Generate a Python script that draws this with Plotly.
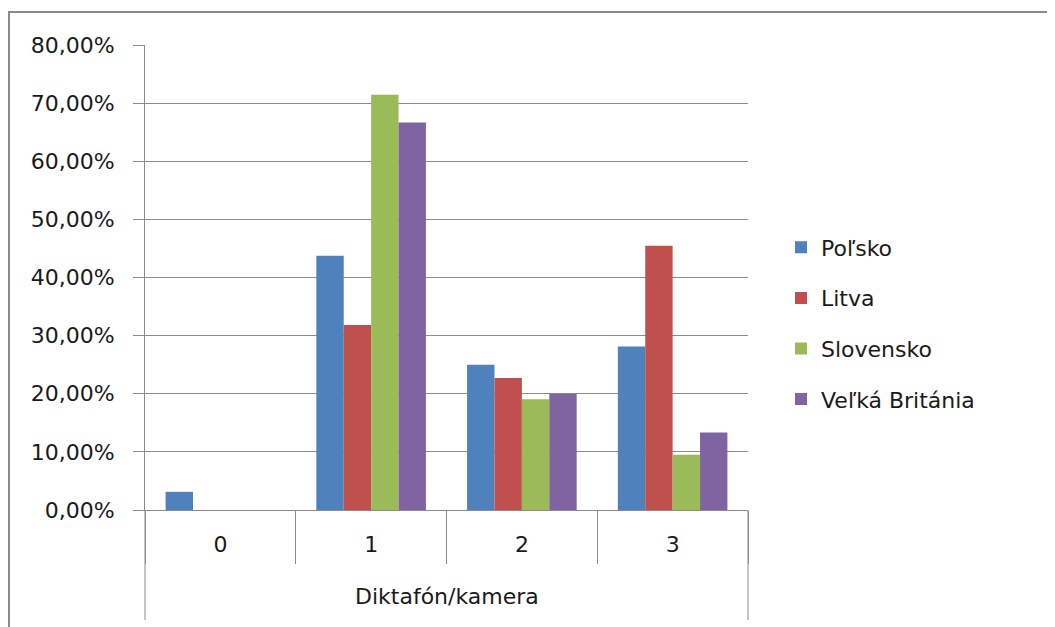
import plotly.graph_objects as go

categories = ["0", "1", "2", "3"]
axis_group_label = "Diktafón/kamera"
series_names = ["Poľsko", "Litva", "Slovensko", "Veľká Británia"]
polsko = [3.13, 43.75, 25.00, 28.13]
litva = [0.0, 31.82, 22.73, 45.45]
slovensko = [0.0, 71.43, 19.05, 9.52]
velka_britania = [0.0, 66.67, 20.00, 13.33]
series_values = [polsko, litva, slovensko, velka_britania]
colors = ["#4F81BD", "#C0504D", "#9BBB59", "#8064A2"]
y_tick_vals = [0, 10, 20, 30, 40, 50, 60, 70, 80]
y_tick_text = ["0,00%", "10,00%", "20,00%", "30,00%", "40,00%", "50,00%", "60,00%", "70,00%", "80,00%"]

FONT = "DejaVu Sans"
GRID = "#8c8c8c"
TXT = "#1a1a1a"

fig = go.Figure()
for name, vals, col in zip(series_names, series_values, colors):
    fig.add_trace(go.Bar(
        x=categories, y=vals, name=name, marker=dict(color=col, line=dict(width=0)),
        legendgroup=name,
    ))

OFF = 8  # page body margin
W, H = 1055 - OFF, 627 - OFF
L, R, T, B = 145 - OFF, 748 - OFF, 45 - OFF, 510 - OFF
pw, ph = R - L, B - T

def px_x(p):
    return (p - OFF - L) / pw

def px_y(p):
    return (B - (p - OFF)) / ph

fig.update_layout(
    width=W, height=H,
    margin=dict(l=L, r=W - R, t=T, b=H - B, autoexpand=False),
    paper_bgcolor="white", plot_bgcolor="white",
    font=dict(family=FONT, size=22, color=TXT),
    barmode="group", bargap=0.273, bargroupgap=0,
    showlegend=True,
    legend=dict(x=px_x(781), xanchor="left", y=px_y(323.5), yanchor="middle",
                font=dict(family=FONT, size=22, color=TXT),
                tracegroupgap=19, bgcolor="rgba(0,0,0,0)"),
    xaxis=dict(type="category", categoryorder="array", categoryarray=categories,
               showgrid=False, showline=True, linecolor=GRID, linewidth=1,
               ticks="outside", tickson="boundaries", ticklen=53, tickcolor=GRID, tickwidth=1,
               ticklabelstandoff=15, zeroline=False,
               tickfont=dict(family=FONT, size=22, color=TXT)),
    yaxis=dict(range=[0, 80], tickvals=y_tick_vals, ticktext=y_tick_text,
               showgrid=True, gridcolor=GRID, gridwidth=1,
               showline=True, linecolor=GRID, linewidth=1,
               ticks="outside", ticklen=11, tickcolor=GRID, tickwidth=1,
               ticklabelstandoff=14, zeroline=False,
               tickfont=dict(family=FONT, size=22, color=TXT)),
)

# axis group label
fig.add_annotation(text=axis_group_label, xref="paper", yref="paper",
                   x=0.5, y=px_y(596), xanchor="center", yanchor="middle",
                   showarrow=False, font=dict(family=FONT, size=22, color=TXT))

# outer axis boundary lines extending below
for xp in (0, 1):
    fig.add_shape(type="line", xref="paper", yref="paper",
                  x0=xp, x1=xp, y0=0, y1=px_y(620),
                  line=dict(color=GRID, width=1))

# chart border
fig.add_shape(type="rect", xref="paper", yref="paper",
              x0=px_x(9), x1=px_x(1065), y0=px_y(12), y1=px_y(640),
              line=dict(color="#8a8a8a", width=2), layer="below")

fig.write_html("out.html")
